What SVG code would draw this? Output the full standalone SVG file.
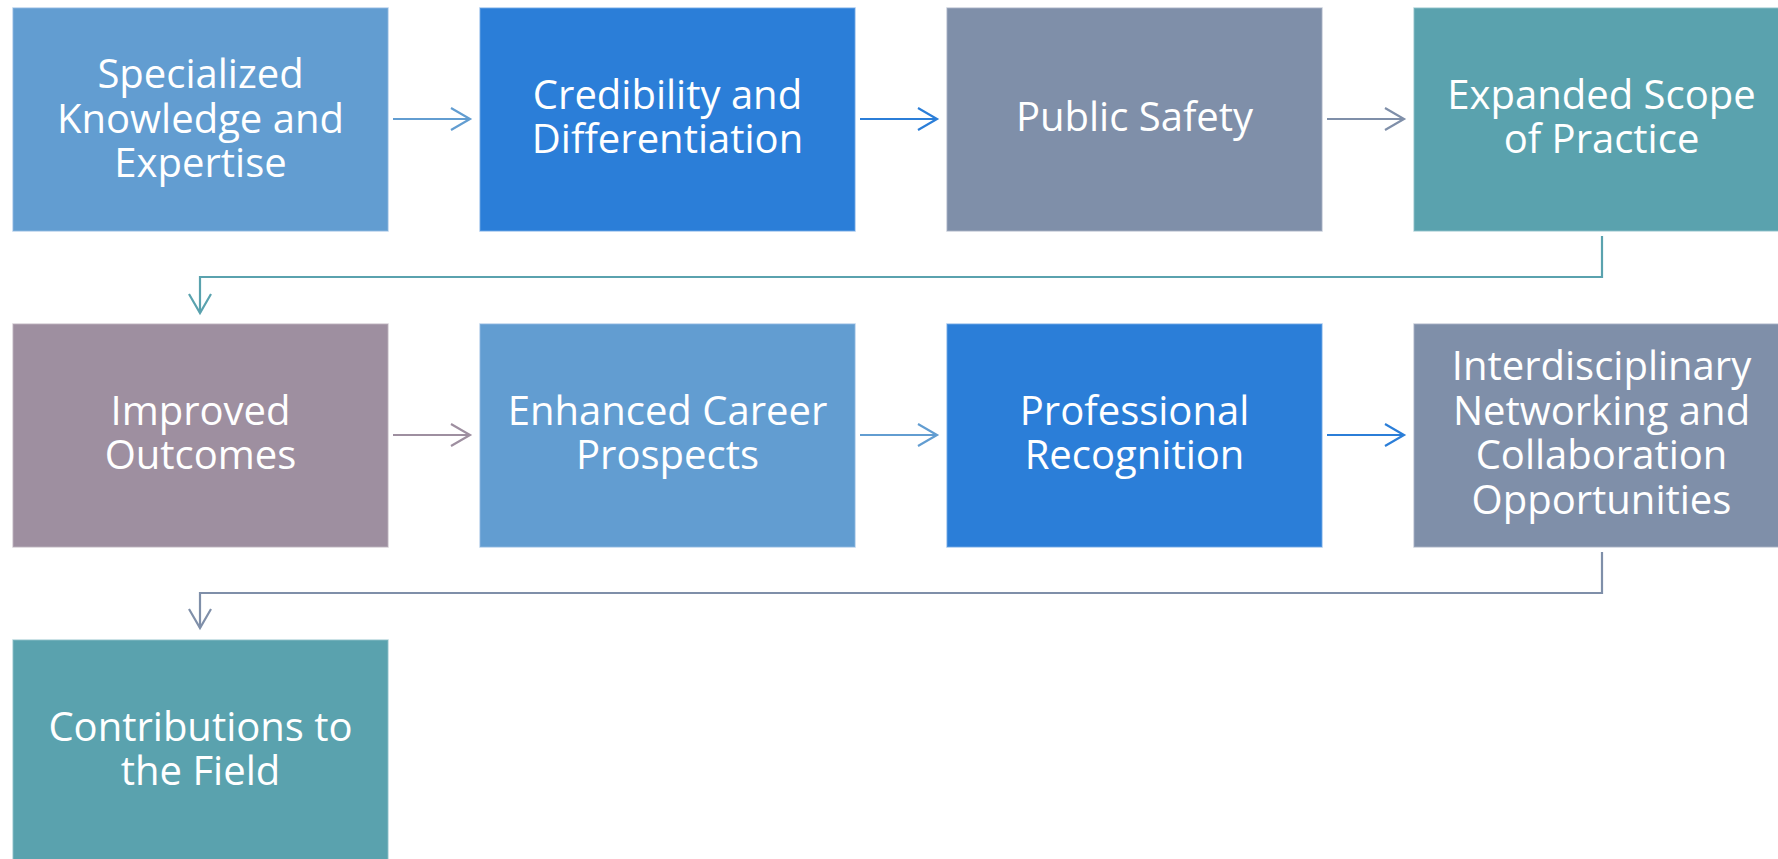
<svg xmlns="http://www.w3.org/2000/svg" width="1778" height="859" viewBox="0 0 1778 859">
<style>
.box{stroke-width:1.5;stroke-opacity:0.6}
.t{font-family:"Open Sans","Noto Sans",sans-serif;font-size:40px;fill:#ffffff;text-anchor:middle}
.c{fill:none;stroke-width:2.2}
</style>
<defs>
<marker id="mA" markerUnits="userSpaceOnUse" markerWidth="24" markerHeight="26" viewBox="-21 -13 24 26" refX="0" refY="0" orient="auto"><path d="M-19,-11 L0,0 L-19,11" fill="none" stroke="#629dd1" stroke-width="2.2"/></marker>
<marker id="mB" markerUnits="userSpaceOnUse" markerWidth="24" markerHeight="26" viewBox="-21 -13 24 26" refX="0" refY="0" orient="auto"><path d="M-19,-11 L0,0 L-19,11" fill="none" stroke="#2b7ed8" stroke-width="2.2"/></marker>
<marker id="mC" markerUnits="userSpaceOnUse" markerWidth="24" markerHeight="26" viewBox="-21 -13 24 26" refX="0" refY="0" orient="auto"><path d="M-19,-11 L0,0 L-19,11" fill="none" stroke="#7f8fa9" stroke-width="2.2"/></marker>
<marker id="mD" markerUnits="userSpaceOnUse" markerWidth="24" markerHeight="26" viewBox="-21 -13 24 26" refX="0" refY="0" orient="auto"><path d="M-19,-11 L0,0 L-19,11" fill="none" stroke="#5aa2ae" stroke-width="2.2"/></marker>
<marker id="mE" markerUnits="userSpaceOnUse" markerWidth="24" markerHeight="26" viewBox="-21 -13 24 26" refX="0" refY="0" orient="auto"><path d="M-19,-11 L0,0 L-19,11" fill="none" stroke="#9e8fa0" stroke-width="2.2"/></marker>
</defs>
<rect width="1778" height="859" fill="#ffffff"/>
<g id="connectors">
<line class="c" x1="393" y1="119" x2="470" y2="119" stroke="#629dd1" marker-end="url(#mA)"/>
<line class="c" x1="860" y1="119" x2="937" y2="119" stroke="#2b7ed8" marker-end="url(#mB)"/>
<line class="c" x1="1327" y1="119" x2="1404" y2="119" stroke="#7f8fa9" marker-end="url(#mC)"/>
<polyline class="c" points="1602,236 1602,277 200,277 200,313" stroke="#5aa2ae" marker-end="url(#mD)"/>
<line class="c" x1="393" y1="435" x2="470" y2="435" stroke="#9e8fa0" marker-end="url(#mE)"/>
<line class="c" x1="860" y1="435" x2="937" y2="435" stroke="#629dd1" marker-end="url(#mA)"/>
<line class="c" x1="1327" y1="435" x2="1404" y2="435" stroke="#2b7ed8" marker-end="url(#mB)"/>
<polyline class="c" points="1602,552 1602,593 200,593 200,628" stroke="#7f8fa9" marker-end="url(#mC)"/>
</g>
<g id="n1"><rect class="box" x="13" y="8" width="375" height="223" fill="#629dd1" stroke="#8db8e0"/>
<text class="t" x="200.5"><tspan x="200.5" y="88">Specialized</tspan><tspan x="200.5" y="132.5">Knowledge and</tspan><tspan x="200.5" y="177">Expertise</tspan></text></g>
<g id="n2"><rect class="box" x="480" y="8" width="375" height="223" fill="#2b7ed8" stroke="#6fa6e4"/>
<text class="t"><tspan x="667.5" y="108.5">Credibility and</tspan><tspan x="667.5" y="153">Differentiation</tspan></text></g>
<g id="n3"><rect class="box" x="947" y="8" width="375" height="223" fill="#7f8fa9" stroke="#a6b1c3"/>
<text class="t"><tspan x="1134.5" y="131">Public Safety</tspan></text></g>
<g id="n4"><rect class="box" x="1414" y="8" width="375" height="223" fill="#5aa2ae" stroke="#8cc0c8"/>
<text class="t"><tspan x="1601.5" y="108.5">Expanded Scope</tspan><tspan x="1601.5" y="153">of Practice</tspan></text></g>
<g id="n5"><rect class="box" x="13" y="324" width="375" height="223" fill="#9e8fa0" stroke="#bdb2be"/>
<text class="t"><tspan x="200.5" y="424.5">Improved</tspan><tspan x="200.5" y="469">Outcomes</tspan></text></g>
<g id="n6"><rect class="box" x="480" y="324" width="375" height="223" fill="#629dd1" stroke="#8db8e0"/>
<text class="t"><tspan x="667.5" y="424.5">Enhanced Career</tspan><tspan x="667.5" y="469">Prospects</tspan></text></g>
<g id="n7"><rect class="box" x="947" y="324" width="375" height="223" fill="#2b7ed8" stroke="#6fa6e4"/>
<text class="t"><tspan x="1134.5" y="424.5">Professional</tspan><tspan x="1134.5" y="469">Recognition</tspan></text></g>
<g id="n8"><rect class="box" x="1414" y="324" width="375" height="223" fill="#7f8fa9" stroke="#a6b1c3"/>
<text class="t"><tspan x="1601.5" y="380">Interdisciplinary</tspan><tspan x="1601.5" y="424.5">Networking and</tspan><tspan x="1601.5" y="469">Collaboration</tspan><tspan x="1601.5" y="513.5">Opportunities</tspan></text></g>
<g id="n9"><rect class="box" x="13" y="640" width="375" height="223" fill="#5aa2ae" stroke="#8cc0c8"/>
<text class="t"><tspan x="200.5" y="740.5">Contributions to</tspan><tspan x="200.5" y="785">the Field</tspan></text></g>
</svg>
